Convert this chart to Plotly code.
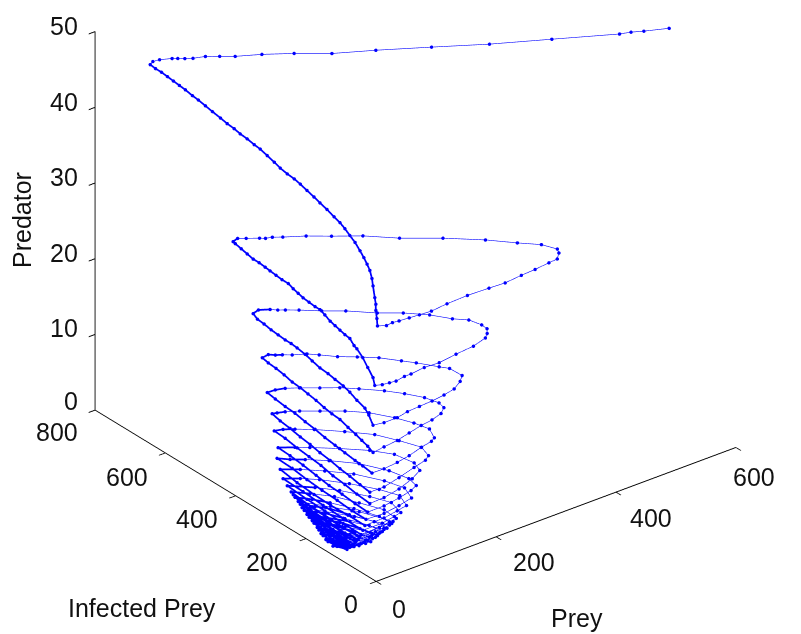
import plotly.graph_objects as go

prey = [
 600,569,554,539,460,387,322,259,208,169,134,103,87,72,56,47,40,34,19,9,1,
 1,1,1,1,1,1,1,1,1,1,1,1,1,1,1,1,1,1,1,1,1,1,1,1,1,1,1,1,1,1,1,1,1,1,1,1,1,1,1,1,1,1,2,
 17,27,38,55,72,92,118,152,188,215,242,265,288,302,
 310,315,306,284,256,215,170,136,103,77,51,40,31,25,11,2,1,
 1,1,1,1,1,1,1,1,1,1,1,1,1,1,1,1,1,1,1,1,1,1,1,1,1,1,1,1,
 10,22,33,47,58,80,105,133,162,182,185,
 193,194,189,174,157,133,106,77,52,30,16,8,1,1,1,
 1,1,1,1,1,1,1,1,1,1,1,1,1,1,1,1,1,1,
 13,35,52,72,93,113,130,140,
 152,151,143,126,114,96,75,55,39,28,11,1,1,1,1,
 1,1,1,1,1,1,1,1,1,1,1,1,1,1,1,
 13,35,55,75,93,108,
 121,124,118,104,88,65,47,26,5,1,1,1,
 1,1,1,1,1,1,1,1,1,1,1,
 13,35,55,75,92,
 101,111,105,94,76,54,28,7,1,1,1,
 1,1,1,1,1,1,1,1,1,1,
 13,38,63,82,
 93,100,88,73,47,19,1,1,1,
 1,1,1,1,1,1,1,1,
 13,38,60,
 82,89,83,64,36,7,1,1,
 1,1,1,1,1,1,1,
 13,38,58,
 72,76,69,50,24,1,1,1,
 1,1,1,1,1,1,
 13,38,
 60,70,61,41,16,1,1,
 1,1,1,1,1,
 13,35,
 51,61,50,29,5,1,1,
 1,1,1,1,
 10,30,
 41,48,36,15,1,1,
 1,1,1,1,
 5,22,
 34,36,22,7,1,1,
 1,1,1,1,
 22,13,
 26,25,12,1,1,1,
 1,1,1,1,
 19,8,18,
 16,2,1,1,1,
 1,1,1,1,
 19,10,
 7,1,1,1,
 1,1,1,
 15,2,
 1,1,1,
 1,1,1,
 10,20,
 1,1,1,
 1,1,1,
 7,17,
 1,1,1,
 1,1,1,
 15,
 1,1,1,
 1,1,
 11,
 1,1,
 1,1,
 8,
 1,1,
 1,1,1,1,1,28,12,
 1,1,1,1,1,22,4,
 1,1,1,1,1,13,1,
 1,1,1,1,5,1,
 1,1,1,1,16,1,
 1,1,1,1,13,1,
 1,1,1,15,1,
 1,1,1,
]

infected = [
 190,209,220,227,285,338,392,443,481,522,554,577,594,609,617,625,633,639,649,651,645,
 630,613,596,579,562,545,525,508,488,468,445,426,406,389,369,349,332,312,292,275,255,235,218,199,179,162,142,122,105,91,77,62,48,37,28,20,14,11,6,3,3,0,0,
 0,0,0,0,0,0,0,0,0,0,0,0,0,0,
 9,22,52,83,126,177,224,270,303,331,353,364,368,375,389,398,409,
 403,386,369,352,335,318,304,287,270,252,238,224,210,193,176,162,148,133,119,105,91,77,65,57,40,26,11,6,
 0,0,0,0,0,0,0,0,0,0,0,
 14,31,59,80,116,150,178,218,244,271,286,294,304,337,352,
 340,321,301,281,261,244,227,204,184,162,139,119,96,77,57,34,23,11,
 0,0,0,0,0,0,0,0,
 15,49,65,101,123,156,182,204,229,245,258,269,289,309,326,
 309,287,264,241,218,196,173,150,128,105,82,60,43,26,11,
 0,0,0,0,0,0,
 14,33,64,97,127,160,184,205,227,261,289,312,
 289,261,233,204,176,148,119,91,62,40,14,
 0,0,0,0,0,
 7,38,72,108,150,181,208,230,261,284,298,
 275,247,218,190,162,133,105,77,48,20,
 0,0,0,0,
 10,42,85,129,170,209,233,267,292,
 261,227,193,159,125,91,57,20,
 0,0,0,
 16,44,90,128,166,201,233,281,
 247,210,173,136,99,62,26,
 0,0,0,
 9,37,81,134,175,204,247,284,
 241,199,156,113,71,31,
 0,0,
 2,39,81,134,174,218,275,
 227,179,131,82,34,
 0,0,
 1,37,77,126,170,218,267,
 210,153,96,40,
 0,0,
 0,39,80,130,176,255,
 199,148,96,45,
 0,0,
 1,39,86,131,190,244,
 196,148,99,51,
 40,0,
 0,34,84,133,184,233,
 190,148,102,57,
 46,0,0,
 33,80,133,176,218,
 176,133,96,62,
 52,0,
 32,91,148,207,
 162,113,65,
 56,0,
 48,105,193,
 148,111,71,
 60,45,
 62,119,179,
 139,105,74,
 61,54,
 77,119,165,
 125,96,77,
 61,
 77,111,153,
 119,91,
 68,
 91,139,
 111,85,
 77,
 125,91,
 238,190,142,94,48,0,69,
 224,179,133,91,54,0,69,
 213,167,125,85,60,0,77,
 199,156,113,77,0,91,
 184,145,105,71,30,91,
 170,133,99,77,38,105,
 159,125,96,56,111,
 145,113,85,
]

predator = [
 50,50,50,50,50,50,50,50,50,50,50,50,50,50,50,50,50,50,50,50,50,
 49.9,49.9,49.8,49.7,49.6,49.5,49.3,49.2,49.0,48.8,48.6,48.4,48.3,48.1,48.0,47.8,47.7,47.4,47.1,46.8,46.6,46.5,46.3,46.0,45.7,45.4,45.1,44.7,44.4,44.0,43.5,43.0,42.3,41.7,41.1,40.5,39.6,38.7,37.3,36.5,35.7,34.7,33.7,
 33.3,33.4,33.3,33.2,33.1,33.0,33.2,33.3,33.2,33.1,33.3,33.4,33.6,33.7,
 34,34,34,34,34,34,34,34,34,34,34,34,34,34,34,34,33.3,
 33.2,33.0,32.8,32.6,32.6,32.5,32.4,32.3,32.2,32.2,31.9,31.7,31.5,31.4,31.3,31.3,31.0,30.6,30.4,30.2,30.0,29.9,29.3,29.1,28.4,27.5,26.6,25.7,
 25.7,25.6,25.5,25.7,25.7,25.9,25.8,26.1,26.3,26.8,27.3,
 27.3,27.3,27.3,27.3,27.3,27.3,27.3,27.3,27.3,27.3,27.3,27.3,27.3,26.3,25.4,
 25.0,24.9,24.7,24.6,24.5,24.5,24.4,24.2,23.9,23.6,23.5,23.3,23.1,22.8,22.3,21.9,21.3,20.3,
 20.6,20.6,20.9,21.0,21.1,21.3,21.6,22.3,
 22.3,22.3,22.3,22.3,22.3,22.3,22.3,22.3,22.3,22.3,22.3,22.3,21.7,21.2,20.3,
 20.1,20.0,19.8,19.5,19.4,19.2,19.0,18.7,18.5,18.4,18.0,17.7,17.4,17.1,16.7,
 17.4,17.6,18.0,18.4,18.6,19.0,
 19,19,19,19,19,19,19,19,19,18.1,17.1,16.1,
 15.9,15.7,15.6,15.3,15.1,14.8,14.6,14.4,14.2,14.1,13.9,
 14.5,14.7,15.0,15.5,15.8,
 15.8,15.8,15.8,15.8,15.8,15.8,15.8,15.8,15.0,14.2,13.7,
 13.4,13.2,12.9,12.7,12.4,12.2,11.9,11.7,11.4,11.2,
 12.1,12.6,13.2,13.6,
 13.6,13.6,13.6,13.6,13.6,13.6,13.5,12.5,11.6,
 11.5,11.2,11.0,10.8,10.4,10.2,9.9,9.7,
 10.7,11.1,11.8,
 11.8,11.8,11.8,11.8,11.8,11.8,11.1,9.7,
 9.6,9.4,9.1,8.8,8.7,8.5,8.4,
 9.6,9.9,10.3,
 10.3,10.3,10.3,10.3,10.3,10.3,9.1,8.2,
 8.1,7.8,7.6,7.5,7.3,7.3,
 8.6,8.9,
 9.2,9.2,9.2,9.2,9.2,8.6,7.0,
 6.6,6.4,6.3,6.4,6.4,
 8.0,8.3,
 8.5,8.5,8.5,8.5,8.5,7.4,6.0,
 5.9,5.7,5.6,5.6,
 7.4,7.7,
 7.9,7.9,7.9,7.9,7.4,5.4,
 5.2,5.1,4.9,4.9,
 7.0,7.2,
 7.3,7.3,7.3,7.3,6.2,4.9,
 4.6,4.5,4.4,4.4,
 4.8,6.7,
 6.9,6.9,6.9,6.6,5.6,4.5,
 4.1,4.0,3.8,3.8,
 4.2,6.3,6.5,
 6.5,6.5,5.8,4.9,4.0,
 3.9,3.9,3.6,3.4,
 3.8,6.3,
 6.3,5.7,4.8,3.5,
 3.3,3.1,3.0,
 3.4,6.0,
 5.6,4.8,3.0,
 2.9,2.7,2.7,
 3.0,3.8,
 4.8,3.9,2.6,
 2.4,2.3,2.5,
 2.8,3.4,
 4.0,3.1,2.1,
 2.0,2.0,2.3,
 3.0,
 3.5,2.8,1.7,
 1.8,1.9,
 2.6,
 2.8,1.3,
 1.5,1.9,
 2.2,
 1.1,1.8,
 4.7,4.5,4.4,4.3,4.6,7.1,6.9,
 4.2,4.0,3.7,3.8,4.0,6.8,6.5,
 3.7,3.6,3.3,3.4,3.6,6.5,5.7,
 3.2,3.0,2.7,3.0,6.2,4.6,
 2.8,2.5,2.4,2.6,4.5,3.8,
 2.3,2.0,2.1,2.3,3.8,2.8,
 1.8,1.6,1.8,3.0,2.1,
 1.4,1.4,1.8,
]

prey_ticks = [0, 200, 400, 600]
infected_ticks = [0, 200, 400, 600, 800]
predator_ticks = [0, 10, 20, 30, 40, 50]

assert len(prey) == len(infected) == len(predator), (len(prey), len(infected), len(predator))

FONT = dict(family="Liberation Sans", size=25, color="#111111")

# the slow legs of the orbit (prey near zero) carry closely packed samples in the
# reference and read as a heavier line
slow = [p <= 2 for p in prey]
def only_slow(vals):
    return [v if s else None for v, s in zip(vals, slow)]

fig = go.Figure([
    go.Scatter3d(
        x=prey, y=infected, z=predator, mode="lines+markers",
        line=dict(color="#0000ff", width=1.2),
        marker=dict(color="#0000ff", size=2),
        showlegend=False, hoverinfo="skip",
    ),
    go.Scatter3d(
        x=only_slow(prey), y=only_slow(infected), z=only_slow(predator), mode="lines",
        line=dict(color="#0000ff", width=3.5),
        connectgaps=False, showlegend=False, hoverinfo="skip",
    ),
])

ann = []
for v, sx, sy in zip(prey_ticks, [23, 38, 35, 18], [-28, -25, -26, -30]):
    ann.append(dict(x=v, y=0, z=0, text=str(v), showarrow=False, font=FONT, xshift=sx, yshift=sy))
for v, sx, sy in zip(infected_ticks, [-25, -39, -39, -38, -38], [-23, -23, -23, -24, -22]):
    ann.append(dict(x=0, y=v, z=0, text=str(v), showarrow=False, font=FONT, xshift=sx, yshift=sy))
for v, sy in zip(predator_ticks, [9, 6, 6, 6, 5, 6]):
    ann.append(dict(x=0, y=800, z=v, text=str(v), showarrow=False, font=FONT, xanchor="right", xshift=-15, yshift=sy))

def axis(rng, ticks):
    return dict(range=rng, tickvals=ticks, showticklabels=False, showgrid=False, zeroline=False,
                showbackground=False, showline=True, linecolor="#000000", linewidth=2,
                ticks="outside", ticklen=8, tickcolor="#000000", tickwidth=2,
                showspikes=False, title=dict(text=""), autorange=False)

d = (-0.541, -0.692, 0.476)
E = 2.0
c = (-0.0964, -0.0875, -0.2371)
fig.update_layout(
    width=801, height=634, autosize=False, margin=dict(l=0, r=0, t=0, b=0),
    paper_bgcolor="white", showlegend=False,
    scene=dict(
        domain=dict(x=[0, 1], y=[0, 1]),
        xaxis=axis([0, 600], prey_ticks), yaxis=axis([0, 800], infected_ticks), zaxis=axis([0, 50], predator_ticks),
        aspectmode="manual", aspectratio=dict(x=1.44, y=1.44, z=1.358),
        camera=dict(projection=dict(type="orthographic"),
                    center=dict(x=c[0], y=c[1], z=c[2]),
                    up=dict(x=0, y=0, z=1),
                    eye=dict(x=c[0]+d[0]*E, y=c[1]+d[1]*E, z=c[2]+d[2]*E)),
        annotations=ann,
    ),
    annotations=[
        dict(x=134/801, y=1-600/634, xref="paper", yref="paper", text="Infected Prey", showarrow=False, font=FONT, xanchor="center", yanchor="middle"),
        dict(x=569/801, y=1-610/634, xref="paper", yref="paper", text="Prey", showarrow=False, font=FONT, xanchor="center", yanchor="middle"),
        dict(x=14/801, y=1-212/634, xref="paper", yref="paper", text="Predator", textangle=-90, showarrow=False, font=FONT, xanchor="center", yanchor="middle"),
    ],
)
fig.write_html("out.html")
